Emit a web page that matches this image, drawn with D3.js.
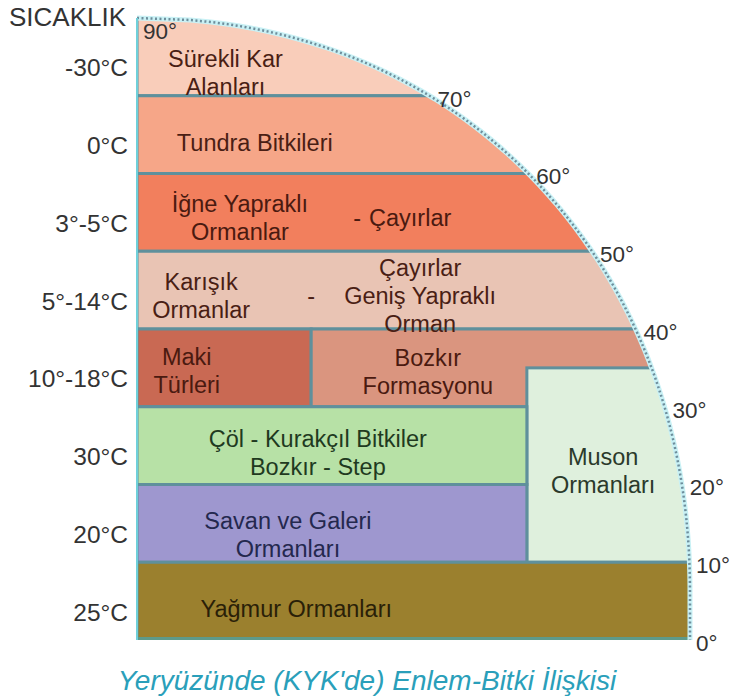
<!DOCTYPE html>
<meta charset="utf-8">
<script src="https://cdn.jsdelivr.net/npm/d3@7"></script>
<style>
  body { margin: 0; background: #fff; }
  text { font-family: "Liberation Sans", Arial, sans-serif; }
</style>
<body>
<script>

// Temperature rows (top to bottom) and the latitude marks at their edges.
var temps = ["-30°C", "0°C", "3°-5°C", "5°-14°C", "10°-18°C", "30°C", "20°C", "25°C"];
var latitudes = ["90°", "70°", "60°", "50°", "40°", "30°", "20°", "10°", "0°"];

// Vegetation zones: label lines, the rows they cover and the share of the width.
var zoneLabels = [
  [["Sürekli Kar", "Alanları"]],
  [["Tundra Bitkileri"]],
  [["İğne Yapraklı", "Ormanlar"], ["-"], ["Çayırlar"]],
  [["Karışık", "Ormanlar"], ["-"], ["Çayırlar", "Geniş Yapraklı", "Orman"]],
  [["Maki", "Türleri"]],
  [["Bozkır", "Formasyonu"]],
  [["Muson", "Ormanları"]],
  [["Çöl - Kurakçıl Bitkiler", "Bozkır - Step"]],
  [["Savan ve Galeri", "Ormanları"]],
  [["Yağmur Ormanları"]]
];
var zoneRowFrom = [0, 1, 2, 3, 4, 4, 4.5, 5, 6, 7];
var zoneRowTo   = [1, 2, 3, 4, 5, 5, 7,   6, 7, 8];
var zoneColFrom = [0, 0, 0, 0, 0,     0.315, 0.705, 0,     0,     0];
var zoneColTo   = [1, 1, 1, 1, 0.315, 1,     1,     0.705, 0.705, 1];

// Styling for each zone (kept apart from the data above).
var zoneFill = ["#f9cdba", "#f6a688", "#f27f5d", "#e9c4b4", "#c96953",
                "#da957f", "#dff0dd", "#b7e1a6", "#9e97cf", "#9b802e"];
var zoneInk  = ["#4a1e14", "#4a1e14", "#4a1a10", "#4a1e14", "#4a1a10",
                "#4a1a10", "#2b3a2b", "#1f3a1f", "#24284e", "#2a1f08"];
var labelX   = [[0.16], [0.213], [0.186, 0.398, 0.494], [0.116, 0.315, 0.512],
                [0.09], [0.526], [0.843], [0.327], [0.273], [0.288]];
var labelDy  = [16, 8, 5, 6, 3, 4, 6, 7, 11, 8];

var width = 732, height = 700;

var svg = d3.select("body").append("svg")
    .attr("width", width)
    .attr("height", height);

var y = d3.scaleBand()
  .domain(temps)
  .range([18, 640])
  .padding(0);

var x = d3.scaleLinear()
  .domain([0, 1])
  .range([137, 690]);

var rowY = function(r) { return y.range()[0] + r * y.step(); };

// Quarter "circle" edge (a slightly squared ellipse) that bounds the chart.
var arcCy = 594, arcRy = arcCy - y.range()[0], arcP = 2.1;
var edgeX = function(py) {
  var t = Math.max(0, Math.min(1, (arcCy - py) / arcRy));
  return x(0) + (x(1) - x(0)) * Math.pow(1 - Math.pow(t, arcP), 1 / arcP);
};

var edgePts = d3.range(y.range()[0], y.range()[1] + 0.5, 2).map(function(py) { return [edgeX(py), py]; });
var clipPts = [[x(0), y.range()[1]], [x(0), y.range()[0]]].concat(edgePts);

svg.append("clipPath")
    .attr("id", "dome")
  .append("path")
    .attr("d", d3.line()(clipPts) + "Z");

var zones = svg.append("g").attr("clip-path", "url(#dome)");

zones.selectAll(".zone")
    .data(zoneLabels)
  .enter().append("rect")
    .attr("class", "zone")
    .attr("x", function(d, i) { return x(zoneColFrom[i]); })
    .attr("y", function(d, i) { return rowY(zoneRowFrom[i]); })
    .attr("width", function(d, i) { return x(zoneColTo[i]) - x(zoneColFrom[i]) + (zoneColTo[i] == 1 ? 20 : 0); })
    .attr("height", function(d, i) { return rowY(zoneRowTo[i]) - rowY(zoneRowFrom[i]); })
    .attr("fill", function(d, i) { return zoneFill[i]; })
    .attr("stroke", "#5f909c")
    .attr("stroke-width", 3);

// Bottom rim of the rain forest band.
zones.append("line")
    .attr("x1", x(0)).attr("x2", x(1))
    .attr("y1", y.range()[1] - 1).attr("y2", y.range()[1] - 1)
    .attr("stroke", "#5e9a8a")
    .attr("stroke-width", 4);

// Dotted outer edge with a pale halo.
svg.append("path")
    .attr("d", d3.line()(edgePts))
    .attr("fill", "none")
    .attr("stroke", "#c9f1f5")
    .attr("stroke-width", 5);
svg.append("path")
    .attr("d", d3.line()(edgePts))
    .attr("fill", "none")
    .attr("stroke", "#6e8e9c")
    .attr("stroke-width", 2.5)
    .attr("stroke-dasharray", "2,2.5");

// Left edge.
svg.append("line")
    .attr("x1", x(0)).attr("x2", x(0))
    .attr("y1", y.range()[0]).attr("y2", y.range()[1])
    .attr("stroke", "#6fd0da")
    .attr("stroke-width", 2);

// Zone labels.
zoneLabels.forEach(function(groups, i) {
  var cy = (rowY(zoneRowFrom[i]) + rowY(zoneRowTo[i])) / 2 + labelDy[i];
  groups.forEach(function(lines, j) {
    var t = svg.append("text")
      .attr("text-anchor", "middle")
      .attr("font-size", 23.5)
      .attr("fill", zoneInk[i]);
    lines.forEach(function(line, k) {
      t.append("tspan")
        .attr("x", x(labelX[i][j]))
        .attr("y", cy + (k - (lines.length - 1) / 2) * 28)
        .attr("dy", "0.35em")
        .text(line);
    });
  });
});

// Temperature labels on the left.
svg.selectAll(".temp")
    .data(temps)
  .enter().append("text")
    .attr("class", "temp")
    .attr("x", x(0) - 9)
    .attr("y", function(d) { return y(d) + y.bandwidth() / 2 + 11; })
    .attr("dy", "0.35em")
    .attr("text-anchor", "end")
    .attr("font-size", 24.5)
    .attr("fill", "#333")
    .text(function(d) { return d; });

svg.append("text")
    .attr("x", 9)
    .attr("y", 17)
    .attr("dy", "0.35em")
    .attr("font-size", 26)
    .attr("fill", "#333")
    .text("SICAKLIK");

// Latitude marks along the outer edge.
svg.selectAll(".lat")
    .data(latitudes)
  .enter().append("text")
    .attr("class", "lat")
    .attr("x", function(d, i) { return i == 0 ? x(0) + 6 : Math.min(edgeX(rowY(i)) + 8, 696); })
    .attr("y", function(d, i) { return i == 0 ? rowY(0) + 13 : rowY(i) + 3; })
    .attr("dy", "0.35em")
    .attr("font-size", 22.5)
    .attr("fill", "#333")
    .text(function(d) { return d; });

// Caption.
svg.append("text")
    .attr("x", 367)
    .attr("y", 680)
    .attr("dy", "0.35em")
    .attr("text-anchor", "middle")
    .attr("font-size", 28)
    .attr("font-style", "italic")
    .attr("fill", "#2a9fba")
    .text("Yeryüzünde (KYK'de) Enlem-Bitki İlişkisi");

</script>
</body>
</html>
